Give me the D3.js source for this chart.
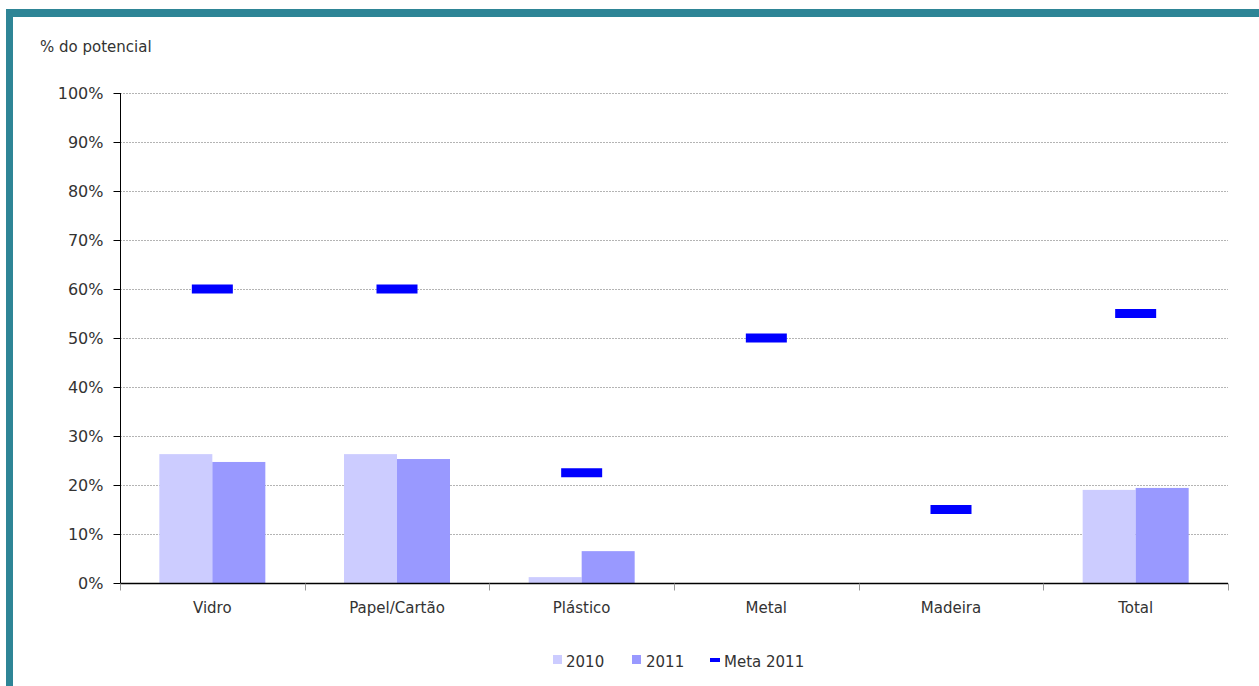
<!DOCTYPE html>
<html>
<head>
<meta charset="utf-8">
<script src="https://cdn.jsdelivr.net/npm/d3@7"></script>
<style>
  body { margin: 0; background: #fff; }
  text { font-family: "DejaVu Sans", sans-serif; fill: #333; }
</style>
</head>
<body>
<script>
// Data
var categories = ["Vidro", "Papel/Cartão", "Plástico", "Metal", "Madeira", "Total"];
var values2010 = [26.3, 26.3, 1.2, 0, 0, 19.0];
var values2011 = [24.7, 25.3, 6.5, 0, 0, 19.4];
var meta2011 = [60, 60, 22.5, 50, 15, 55];
var yTicks = [0, 10, 20, 30, 40, 50, 60, 70, 80, 90, 100];
var seriesNames = ["2010", "2011", "Meta 2011"];

var width = 1259, height = 686;

var svg = d3.select("body").append("svg")
    .attr("width", width)
    .attr("height", height)
    .style("display", "block");

// Frame (top and left border)
svg.append("rect").attr("x", 6).attr("y", 9).attr("width", width - 6).attr("height", 8).attr("fill", "#2e8596");
svg.append("rect").attr("x", 6).attr("y", 9).attr("width", 7).attr("height", height - 9).attr("fill", "#2e8596");

var plotLeft = 120, plotRight = 1228, plotTop = 93, plotBottom = 583;

var x = d3.scaleBand()
    .domain(categories)
    .range([plotLeft, plotRight]);

var xSub = d3.scaleBand()
    .domain(["2010", "2011"])
    .range([0, 106]);

var y = d3.scaleLinear()
    .domain([0, 100])
    .range([plotBottom, plotTop]);

// Gridlines
svg.append("g")
    .selectAll("line")
    .data(yTicks.filter(function (d) { return d > 0; }))
    .enter().append("line")
    .attr("x1", plotLeft).attr("x2", plotRight)
    .attr("y1", function (d) { return y(d) + 0.5; })
    .attr("y2", function (d) { return y(d) + 0.5; })
    .attr("stroke", "#b4b4b4")
    .attr("stroke-dasharray", "2,1")
    .attr("stroke-width", 1);

// Bars
var barOffset = (x.bandwidth() - 106) / 2;
var groups = svg.append("g")
    .selectAll("g")
    .data(categories)
    .enter().append("g")
    .attr("transform", function (d) { return "translate(" + (x(d) + barOffset) + ",0)"; });

groups.append("rect")
    .attr("x", xSub("2010"))
    .attr("width", xSub.bandwidth())
    .attr("y", function (d, i) { return y(values2010[i]); })
    .attr("height", function (d, i) { return plotBottom - y(values2010[i]); })
    .attr("fill", "#ccccff");

groups.append("rect")
    .attr("x", xSub("2011"))
    .attr("width", xSub.bandwidth())
    .attr("y", function (d, i) { return y(values2011[i]); })
    .attr("height", function (d, i) { return plotBottom - y(values2011[i]); })
    .attr("fill", "#9999ff");

// Meta markers
svg.append("g")
    .selectAll("rect")
    .data(categories)
    .enter().append("rect")
    .attr("x", function (d) { return x(d) + x.bandwidth() / 2 - 20.5; })
    .attr("y", function (d, i) { return y(meta2011[i]) - 4.5; })
    .attr("width", 41)
    .attr("height", 9)
    .attr("fill", "#0000ff");

// Y axis
var yAxis = svg.append("g")
    .attr("transform", "translate(" + (plotLeft + 0.5) + ",0)")
    .call(d3.axisLeft(y).tickValues(yTicks).tickSize(7).tickPadding(10)
        .tickFormat(function (d) { return d + "%"; }));
yAxis.select(".domain").attr("stroke", "#000").attr("d", "M0," + plotTop + "V" + plotBottom);
yAxis.selectAll(".tick line").attr("stroke", "#000");
yAxis.selectAll(".tick text")
    .style("font-size", "16px")
    .style("font-family", "DejaVu Sans, sans-serif")
    .attr("fill", "#333");

// X axis
var xAxis = svg.append("g")
    .attr("transform", "translate(0," + (plotBottom + 0.5) + ")");
xAxis.append("line")
    .attr("x1", plotLeft).attr("x2", plotRight)
    .attr("stroke", "#000").attr("stroke-width", 1.5);
xAxis.selectAll(".sep")
    .data(categories.concat(["end"]))
    .enter().append("line")
    .attr("class", "sep")
    .attr("x1", function (d, i) { return Math.round(plotLeft + i * x.bandwidth()) + 0.5; })
    .attr("x2", function (d, i) { return Math.round(plotLeft + i * x.bandwidth()) + 0.5; })
    .attr("y1", 0).attr("y2", 7)
    .attr("stroke", "#999");
xAxis.selectAll(".lbl")
    .data(categories)
    .enter().append("text")
    .attr("class", "lbl")
    .attr("x", function (d) { return x(d) + x.bandwidth() / 2; })
    .attr("y", 29)
    .attr("text-anchor", "middle")
    .style("font-size", "15px")
    .text(function (d) { return d; });

// Axis title
svg.append("text")
    .attr("x", 40).attr("y", 52)
    .style("font-size", "15px")
    .text("% do potencial");

// Legend
var legend = svg.append("g");
legend.append("rect").attr("x", 553).attr("y", 655).attr("width", 9).attr("height", 9).attr("fill", "#ccccff");
legend.append("text").attr("x", 566).attr("y", 667).style("font-size", "15px").text(seriesNames[0]);
legend.append("rect").attr("x", 632).attr("y", 655).attr("width", 9).attr("height", 9).attr("fill", "#9999ff");
legend.append("text").attr("x", 646).attr("y", 667).style("font-size", "15px").text(seriesNames[1]);
legend.append("rect").attr("x", 710).attr("y", 658).attr("width", 10).attr("height", 4).attr("fill", "#0000ff");
legend.append("text").attr("x", 724).attr("y", 667).style("font-size", "15px").text(seriesNames[2]);
</script>
</body>
</html>
